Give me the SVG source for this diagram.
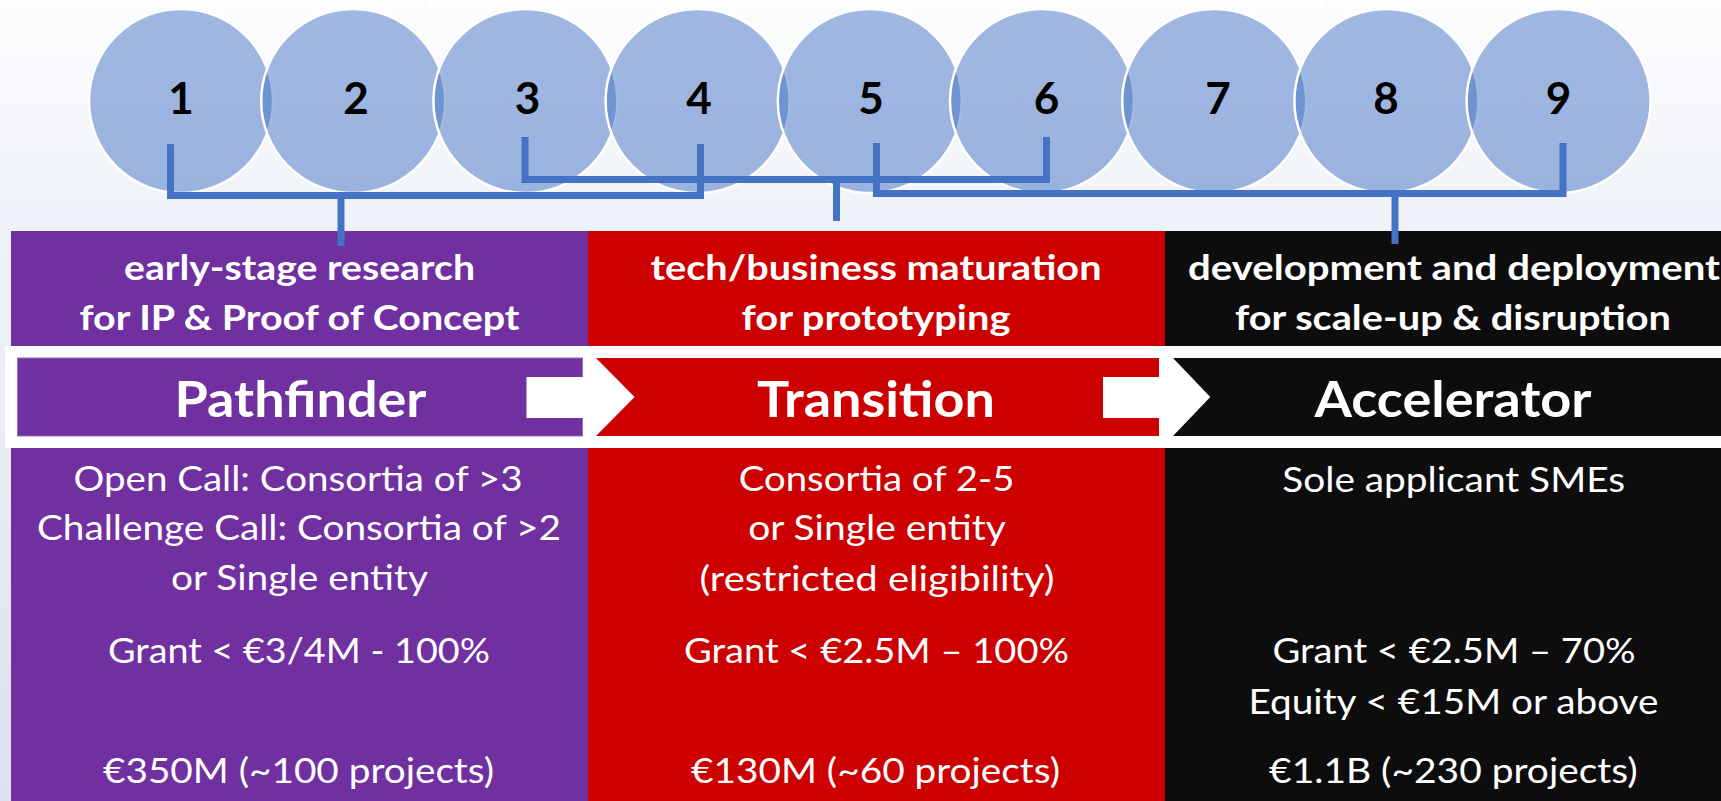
<svg xmlns="http://www.w3.org/2000/svg" width="1721" height="801" viewBox="0 0 1721 801">
<defs>
<linearGradient id="bg" x1="0" y1="0" x2="0" y2="1">
<stop offset="0" stop-color="#FCFDFE"/>
<stop offset="0.3" stop-color="#EEF1F8"/>
<stop offset="1" stop-color="#DCE2EE"/>
</linearGradient>
<style>
.stage{fill:#4472C4;fill-opacity:0.5;stroke:#FFFFFF;stroke-width:2.5}
.num{font-family:Lato,"Liberation Sans",sans-serif;font-weight:700;font-size:44px;fill:#000000;text-anchor:middle}
.hdr{font-family:Lato,"Liberation Sans",sans-serif;font-weight:700;font-size:34px;fill:#FFFFFF;text-anchor:middle}
.ttl{font-family:Lato,"Liberation Sans",sans-serif;font-weight:700;font-size:50px;fill:#FFFFFF;text-anchor:middle}
.body{font-family:Lato,"Liberation Sans",sans-serif;font-weight:400;font-size:34px;fill:#FFFFFF;text-anchor:middle}
.conn{fill:none;stroke:#4472C4;stroke-width:7;stroke-linejoin:miter;stroke-linecap:butt}
</style>
</defs>
<rect x="0" y="0" width="1721" height="801" fill="url(#bg)"/>
<rect x="428" y="0" width="896" height="7" fill="#FFFFFF"/>

<g id="stages">
<g id="stage-1"><circle class="stage" cx="181" cy="101" r="92"/><text class="num" x="181" y="114">1</text></g>
<g id="stage-2"><circle class="stage" cx="353.2" cy="101" r="92"/><text class="num" x="356" y="114">2</text></g>
<g id="stage-3"><circle class="stage" cx="525.4" cy="101" r="92"/><text class="num" x="527.5" y="114">3</text></g>
<g id="stage-4"><circle class="stage" cx="697.6" cy="101" r="92"/><text class="num" x="699" y="114">4</text></g>
<g id="stage-5"><circle class="stage" cx="869.8" cy="101" r="92"/><text class="num" x="871" y="114">5</text></g>
<g id="stage-6"><circle class="stage" cx="1042" cy="101" r="92"/><text class="num" x="1046.5" y="114">6</text></g>
<g id="stage-7"><circle class="stage" cx="1214.2" cy="101" r="92"/><text class="num" x="1218" y="114">7</text></g>
<g id="stage-8"><circle class="stage" cx="1386.4" cy="101" r="92"/><text class="num" x="1386" y="114">8</text></g>
<g id="stage-9"><circle class="stage" cx="1558.6" cy="101" r="92"/><text class="num" x="1558.5" y="114">9</text></g>
</g>

<g id="pathfinder">
<rect x="11" y="231" width="577" height="570" fill="#7030A0"/>
<text class="hdr" x="299.5" y="280" textLength="351" lengthAdjust="spacingAndGlyphs">early-stage research</text>
<text class="hdr" x="299.5" y="330" textLength="440" lengthAdjust="spacingAndGlyphs">for IP &amp; Proof of Concept</text>
</g>
<g id="transition">
<rect x="588" y="231" width="577" height="570" fill="#CC0000"/>
<text class="hdr" x="876" y="280" textLength="451" lengthAdjust="spacingAndGlyphs">tech/business maturation</text>
<text class="hdr" x="876" y="330" textLength="269" lengthAdjust="spacingAndGlyphs">for prototyping</text>
</g>
<g id="accelerator">
<rect x="1165" y="231" width="560" height="570" fill="#0D0D0D"/>
<text class="hdr" x="1454" y="280" textLength="532" lengthAdjust="spacingAndGlyphs">development and deployment</text>
<text class="hdr" x="1453" y="330" textLength="436" lengthAdjust="spacingAndGlyphs">for scale-up &amp; disruption</text>
</g>

<g id="arrow-band">
<rect x="5" y="346" width="1720" height="102" fill="#FFFFFF"/>
<rect x="17.5" y="358" width="565" height="78" fill="#7030A0" stroke="#9270B8" stroke-width="1"/>
<rect x="526.5" y="377" width="57" height="41" fill="#FFFFFF"/>
<polygon points="596,358 1159,358 1159,436 596,436 634.6,397" fill="#CC0000"/>
<rect x="1103" y="377" width="57" height="41" fill="#FFFFFF"/>
<polygon points="1173,358 1730,358 1730,436 1173,436 1210.3,397" fill="#0D0D0D"/>
<text class="ttl" x="300.5" y="417" textLength="252" lengthAdjust="spacingAndGlyphs">Pathfinder</text>
<text class="ttl" x="876" y="417" textLength="238" lengthAdjust="spacingAndGlyphs">Transition</text>
<text class="ttl" x="1453" y="417" textLength="277" lengthAdjust="spacingAndGlyphs">Accelerator</text>
</g>

<g id="pathfinder-details">
<text class="body" x="298" y="491" textLength="449" lengthAdjust="spacingAndGlyphs">Open Call: Consortia of &gt;3</text>
<text class="body" x="299" y="540" textLength="524" lengthAdjust="spacingAndGlyphs">Challenge Call: Consortia of &gt;2</text>
<text class="body" x="299.5" y="589.5" textLength="257" lengthAdjust="spacingAndGlyphs">or Single entity</text>
<text class="body" x="299" y="662.7" textLength="382" lengthAdjust="spacingAndGlyphs">Grant &lt; €3/4M - 100%</text>
<text class="body" x="298.5" y="783.3" textLength="391" lengthAdjust="spacingAndGlyphs">€350M (~100 projects)</text>
</g>
<g id="transition-details">
<text class="body" x="876.6" y="491" textLength="275.6" lengthAdjust="spacingAndGlyphs">Consortia of 2-5</text>
<text class="body" x="877" y="540" textLength="257.6" lengthAdjust="spacingAndGlyphs">or Single entity</text>
<text class="body" x="877" y="591" textLength="355" lengthAdjust="spacingAndGlyphs">(restricted eligibility)</text>
<text class="body" x="876.5" y="662.7" textLength="385" lengthAdjust="spacingAndGlyphs">Grant &lt; €2.5M – 100%</text>
<text class="body" x="875.5" y="783.3" textLength="369" lengthAdjust="spacingAndGlyphs">€130M (~60 projects)</text>
</g>
<g id="accelerator-details">
<text class="body" x="1453.7" y="491.5" textLength="342.8" lengthAdjust="spacingAndGlyphs">Sole applicant SMEs</text>
<text class="body" x="1454" y="662.7" textLength="363" lengthAdjust="spacingAndGlyphs">Grant &lt; €2.5M – 70%</text>
<text class="body" x="1453.5" y="714" textLength="410" lengthAdjust="spacingAndGlyphs">Equity &lt; €15M or above</text>
<text class="body" x="1453.4" y="783.3" textLength="368.6" lengthAdjust="spacingAndGlyphs">€1.1B (~230 projects)</text>
</g>

<g id="connectors">
<path class="conn" d="M170.5,144 V195.5 H700.5 V144"/>
<path class="conn" d="M341,195.5 V246"/>
<path class="conn" d="M525,137 V179.5 H1046.5 V137"/>
<path class="conn" d="M836.5,179.5 V221"/>
<path class="conn" d="M876.5,143 V193.5 H1563 V143"/>
<path class="conn" d="M1395,193.5 V244"/>
</g>
</svg>
